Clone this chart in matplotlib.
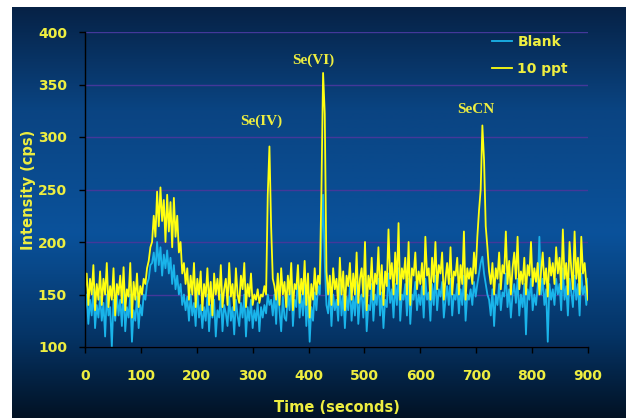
import numpy as np
import matplotlib
matplotlib.use('Agg')
from matplotlib import pyplot as plt
from matplotlib.colors import LinearSegmentedColormap

# time axis (seconds), one reading every 3 s
time = np.arange(0, 901, 3)

# 10 ppt standard
ppt10 = [
    155, 170, 140, 165, 150, 178, 135, 160, 145, 172,
    140, 165, 150, 180, 138, 158, 145, 175, 130, 160,
    150, 168, 142, 176, 135, 155, 148, 180, 128, 162,
    145, 170, 138, 158, 150, 165, 160, 175, 182, 195,
    200, 225, 205, 248, 215, 252, 220, 240, 200, 245,
    210, 238, 195, 242, 205, 225, 190, 200, 170, 180,
    160, 175, 145, 168, 150, 180, 138, 165, 150, 172,
    135, 160, 148, 175, 140, 162, 130, 170, 150, 165,
    145, 178, 138, 155, 165, 140, 180, 148, 160, 135,
    175, 150, 142, 168, 155, 180, 138, 160, 148, 170,
    140, 150, 145, 155, 142, 150, 148, 158, 150, 245,
    291, 215, 165, 158, 145, 170, 140, 175, 150, 162,
    138, 168, 150, 180, 135, 160, 155, 178, 142, 165,
    150, 182, 140, 170, 128, 160, 145, 175, 150, 168,
    160, 248, 361, 322, 172, 150, 168, 140, 175, 155,
    165, 140, 185, 150, 172, 135, 168, 158, 180, 145,
    170, 150, 190, 142, 165, 175, 148, 200, 135, 168,
    155, 185, 145, 170, 160, 195, 150, 178, 140, 172,
    158, 212, 165, 180, 150, 190, 160, 218, 145, 175,
    165, 185, 150, 200, 140, 175, 168, 190, 155, 172,
    160, 180, 150, 205, 168, 175, 145, 185, 162, 200,
    155, 178, 170, 190, 145, 165, 180, 160, 195, 150,
    172, 168, 185, 150, 178, 160, 210, 145, 175, 165,
    175, 160, 190, 170, 205, 230, 250, 311, 278, 215,
    195, 172, 160, 180, 150, 175, 165, 190, 155, 178,
    170, 210, 160, 182, 150, 175, 190, 165, 205, 155,
    172, 160, 185, 150, 178, 168, 200, 158, 175, 162,
    180, 150, 172, 190, 160, 175, 148, 185, 168, 180,
    160, 195, 170, 185, 155, 212, 165, 180, 150, 200,
    175, 155, 210, 165, 185, 150, 205, 170, 180, 160,
    145,
]

# blank run
blank = [
    135, 150, 122, 145, 130, 155, 118, 140, 128, 148,
    125, 142, 110, 150, 130, 138, 100, 145, 125, 150,
    130, 145, 120, 155, 115, 138, 128, 150, 105, 135,
    125, 148, 118, 140, 130, 150, 145, 160, 165, 178,
    180, 190, 172, 200, 178, 195, 168, 188, 175, 192,
    170, 185, 160, 178, 155, 168, 150, 160, 140, 150,
    135, 148, 125, 150, 130, 142, 120, 155, 128, 140,
    118, 138, 125, 150, 115, 140, 128, 145, 110, 135,
    128, 150, 115, 140, 132, 120, 148, 125, 138, 112,
    145, 130, 120, 142, 128, 150, 110, 138, 125, 145,
    118, 135, 125, 142, 115, 138, 128, 140, 132, 150,
    140, 145, 130, 150, 122, 158, 135, 115, 148, 128,
    125, 150, 135, 165, 120, 145, 138, 170, 128, 150,
    130, 160, 120, 148, 105, 138, 125, 152, 135, 158,
    150, 200, 245, 180, 140, 132, 155, 120, 150, 135,
    145, 125, 160, 130, 150, 118, 148, 135, 158, 125,
    148, 130, 162, 122, 145, 150, 128, 165, 115, 140,
    135, 160, 125, 150, 140, 165, 130, 152, 118, 145,
    138, 170, 142, 155, 128, 160, 140, 175, 125, 150,
    145, 160, 130, 165, 122, 150, 145, 162, 135, 150,
    140, 158, 128, 165, 145, 152, 125, 160, 140, 168,
    135, 155, 148, 162, 128, 145, 158, 140, 165, 130,
    150, 145, 160, 132, 155, 140, 168, 125, 150, 145,
    155, 140, 162, 148, 160, 170, 180, 186, 170, 160,
    150, 145, 130, 155, 120, 150, 140, 160, 135, 152,
    148, 170, 138, 155, 128, 150, 160, 142, 165, 130,
    150, 138, 160, 112, 155, 145, 165, 135, 150, 140,
    158, 205, 150, 165, 140, 155, 105, 160, 145, 155,
    140, 165, 150, 160, 135, 175, 145, 158, 130, 165,
    152, 138, 168, 145, 160, 130, 170, 150, 158, 140,
    165,
]

peak_names = ['Se(IV)', 'Se(VI)', 'SeCN']
peak_x = [315, 408, 700]
peak_y = [315, 373, 326]

txt = '#eeee40'

fig = plt.figure(figsize=(6.26, 4.18), dpi=100, facecolor='white')

# blue gradient backdrop
bg = fig.add_axes([12 / 626, 0, 614 / 626, 411 / 418], zorder=-5)
cmap = LinearSegmentedColormap.from_list('bg', [
    (0.0, (6 / 255, 34 / 255, 70 / 255)),
    (0.25, (10 / 255, 68 / 255, 130 / 255)),
    (0.55, (10 / 255, 82 / 255, 155 / 255)),
    (0.8, (5 / 255, 52 / 255, 102 / 255)),
    (1.0, (2 / 255, 18 / 255, 36 / 255)),
])
bg.imshow(np.linspace(0, 1, 256).reshape(-1, 1), aspect='auto', cmap=cmap,
          extent=[0, 1, 0, 1])
bg.axis('off')

ax = fig.add_axes([85 / 626, 1 - 347 / 418, 503 / 626, 315 / 418])
ax.set_facecolor('none')

ax.plot(time, blank, color='#1ab4ea', lw=1.3, label='Blank')
ax.plot(time, ppt10, color='#ffff10', lw=1.3, label='10 ppt')

ax.set_xlim(0, 900)
ax.set_ylim(100, 400)
ax.set_xticks(range(0, 901, 100))
ax.set_yticks(range(100, 401, 50))
ax.yaxis.grid(True, color='#44389a', lw=1.0)
ax.set_axisbelow(True)

for s in ['top', 'right']:
    ax.spines[s].set_visible(False)
for s in ['left', 'bottom']:
    ax.spines[s].set_color('black')
    ax.spines[s].set_linewidth(1.0)

ax.tick_params(axis='both', colors='black', length=4, width=1,
               labelcolor=txt, labelsize=10)
ax.tick_params(axis='x', pad=12)
ax.tick_params(axis='y', pad=9)
for lab in ax.get_xticklabels() + ax.get_yticklabels():
    lab.set_fontweight('bold')

# axis titles placed in figure pixels
fig.text(336.5 / 626, 1 - 408 / 418, 'Time (seconds)', color=txt,
         fontsize=10.5, fontweight='bold', ha='center', va='center')
fig.text(28.5 / 626, 1 - 190 / 418, 'Intensity (cps)', color=txt,
         fontsize=10.5, fontweight='bold', ha='center', va='center',
         rotation=90)

for name, x, y in zip(peak_names, peak_x, peak_y):
    ax.text(x, y, name, color=txt, fontsize=11, fontweight='bold',
            family='Liberation Serif', ha='center', va='center')

leg = ax.legend(loc='upper left', bbox_to_anchor=(0.81, 0.99), frameon=False,
                handlelength=1.4, handletextpad=0.4, labelspacing=0.95,
                borderpad=0, borderaxespad=0,
                prop={'weight': 'bold', 'size': 10})
for t in leg.get_texts():
    t.set_color(txt)

fig.savefig('out.png', dpi=100)
